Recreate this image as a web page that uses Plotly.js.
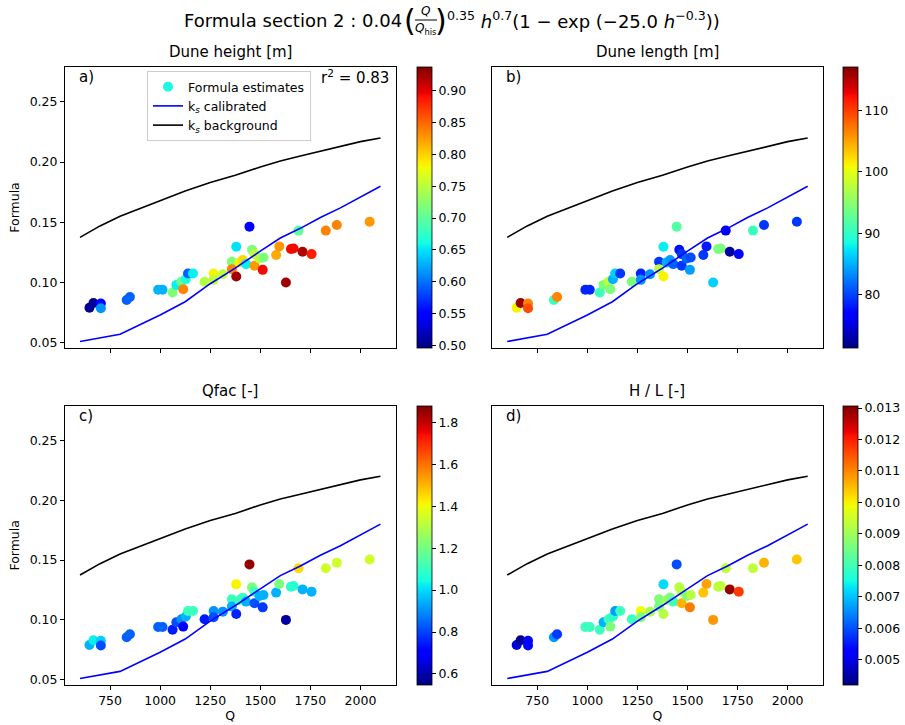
<!DOCTYPE html>
<html><head><meta charset="utf-8">
<script src="https://cdn.plot.ly/plotly-3.0.1.min.js"></script>
<style>body{margin:0;padding:0;background:#fff;} #chart{width:905px;height:725px;}</style>
</head><body><div id="chart"></div>
<script>
// ---------------- data ----------------
const Qpts = [647,667,704,704,833,849,990,1012,1062,1081,1106,1115,1128,1139,1164,1222,1267,1267,1313,1358,1358,1380,1380,1396,1413,1429,1446,1459,1471,1471,1496,1516,1512,1579,1595,1628,1653,1666,1691,1711,1756,1827,1882,2046];
const formulaEst = [0.079,0.083,0.0825,0.0786,0.0855,0.088,0.094,0.094,0.0917,0.098,0.1006,0.0944,0.1028,0.1075,0.1075,0.1006,0.1075,0.1022,0.1069,0.1172,0.1111,0.105,0.1297,0.1167,0.1186,0.1153,0.1464,0.1272,0.1236,0.1139,0.12,0.1208,0.1105,0.1228,0.13,0.1,0.1278,0.1283,0.1431,0.1255,0.1236,0.1431,0.1478,0.1505];
const duneHeight = [0.505,0.505,0.549,0.615,0.593,0.593,0.628,0.628,0.717,0.655,0.708,0.836,0.664,0.593,0.655,0.747,0.783,0.752,0.752,0.717,0.836,0.924,0.650,0.783,0.796,0.655,0.549,0.717,0.752,0.827,0.752,0.717,0.893,0.818,0.827,0.924,0.893,0.893,0.699,0.919,0.884,0.836,0.836,0.827];
const duneLength = [101.1,116.2,106.6,109.3,90.5,106.6,78.6,78.6,90.5,94.2,97.9,94.2,85.0,86.4,79.5,94.2,78.6,83.7,83.7,79.5,97.9,101.1,87.8,85.0,84.1,81.4,91.9,77.7,79.5,79.5,81.4,80.5,84.1,79.5,78.2,86.4,94.2,94.2,75.9,72.7,77.3,90.5,79.5,79.5];
const qfac = [0.947,1.027,0.987,0.814,0.841,0.841,0.841,0.841,0.748,0.814,0.907,0.708,0.947,1.107,1.107,0.748,0.907,0.814,0.907,1.107,0.947,0.761,1.413,1.107,1.107,0.947,1.852,1.214,1.107,0.814,0.947,0.947,0.788,0.947,1.214,0.588,1.080,1.080,1.453,0.947,0.947,1.347,1.347,1.347];
const heightLength = [0.00491,0.00438,0.00535,0.00535,0.00660,0.00580,0.00793,0.00793,0.00793,0.00686,0.00793,0.00864,0.00775,0.00668,0.00793,0.00793,0.00988,0.00864,0.00908,0.00864,0.00864,0.00926,0.00722,0.00908,0.00864,0.00793,0.00597,0.00926,0.00926,0.01059,0.00864,0.00926,0.01112,0.01041,0.01076,0.01085,0.00934,0.00934,0.00934,0.01289,0.01174,0.00934,0.01059,0.01041];

const Qline = [600,700,800,1000,1125,1250,1375,1500,1600,1700,1800,1900,2000,2100];
const ksCalibrated = [0.051,0.054,0.057,0.073,0.084,0.099,0.112,0.126,0.137,0.145,0.154,0.162,0.171,0.180];
const ksBackground = [0.1375,0.147,0.155,0.168,0.176,0.183,0.189,0.196,0.201,0.205,0.209,0.213,0.217,0.220];

const xTicks = [750,1000,1250,1500,1750,2000];
const yTicks = [0.05,0.10,0.15,0.20,0.25];
const cbTicksH = [0.50,0.55,0.60,0.65,0.70,0.75,0.80,0.85,0.90];
const cbTicksL = [80,90,100,110];
const cbTicksQ = [0.6,0.8,1.0,1.2,1.4,1.6,1.8];
const cbTicksHL = [0.005,0.006,0.007,0.008,0.009,0.010,0.011,0.012,0.013];
const panelTitles = ['Dune height [m]','Dune length [m]','Qfac [-]','H / L [-]'];
const panelLetters = ['a)','b)','c)','d)'];

// ---------------- style ----------------
const W = 905, H = 725;
const FONT = 'DejaVu Sans, Liberation Sans, sans-serif';
const px = x => x / W;
const py = y => 1 - y / H;
const jet = [
  [0,'rgb(0,0,127)'],[0.11,'rgb(0,0,255)'],[0.125,'rgb(0,0,255)'],
  [0.34,'rgb(0,219,255)'],[0.35,'rgb(0,229,247)'],[0.375,'rgb(21,255,226)'],
  [0.64,'rgb(239,255,8)'],[0.65,'rgb(247,246,0)'],[0.66,'rgb(255,236,0)'],
  [0.89,'rgb(255,19,0)'],[0.91,'rgb(232,0,0)'],[1,'rgb(127,0,0)']
];
const colX = [[65,395.5],[492.2,822.7]];
const rowY = [[67,348],[405.7,685]];
const cbX = [416.7, 842.7];
const panels = [
  {vals: duneHeight, cmin:0.496, cmax:0.937, ticks: cbTicksH, fmt:'.2f'},
  {vals: duneLength, cmin:71.3, cmax:117.1, ticks: cbTicksL, fmt:'d'},
  {vals: qfac, cmin:0.548, cmax:1.879, ticks: cbTicksQ, fmt:'.1f'},
  {vals: heightLength, cmin:0.0042, cmax:0.01307, ticks: cbTicksHL, fmt:'.3f'}
];

const traces = [];
const layout = {
  width: W, height: H,
  margin: {l:0, r:0, t:0, b:0},
  paper_bgcolor: '#fff', plot_bgcolor: '#fff',
  font: {family: FONT, size: 12.5, color: '#000'},
  showlegend: true,
  legend: {x: px(147), y: py(71), xanchor: 'left', yanchor: 'top',
           bgcolor: 'rgba(255,255,255,0.85)', bordercolor: '#cccccc', borderwidth: 1,
           font: {family: FONT, size: 12.5, color: '#000'}, tracegroupgap: 0},
  annotations: [], shapes: []
};

// legend entry for scatter
traces.push({x:[null], y:[null], type:'scatter', mode:'markers', name:'Formula estimates',
  marker:{size:10, color:'rgb(30,250,225)'}, xaxis:'x', yaxis:'y', hoverinfo:'skip'});

panels.forEach((p, i) => {
  const r = Math.floor(i / 2), c = i % 2;
  const k = i + 1;
  const xa = k === 1 ? 'x' : 'x' + k, ya = k === 1 ? 'y' : 'y' + k;
  const xKey = k === 1 ? 'xaxis' : 'xaxis' + k, yKey = k === 1 ? 'yaxis' : 'yaxis' + k;
  const yTop = rowY[r][0], yBot = rowY[r][1];
  traces.push({
    x: Qpts, y: formulaEst, type:'scatter', mode:'markers', xaxis: xa, yaxis: ya,
    showlegend: false,
    marker: {size: 10, color: p.vals, colorscale: jet, cmin: p.cmin, cmax: p.cmax,
      line: {width: 0},
      colorbar: {x: px(cbX[c]), xanchor:'left', xpad:0, ypad:0,
        y: 1 - (yTop + yBot) / 2 / H, yanchor:'middle', len: (yBot - yTop) / H, lenmode:'fraction',
        thickness: 15, outlinewidth: 0.8, outlinecolor:'#000',
        ticks:'outside', ticklen:4, tickwidth:1, tickcolor:'#000',
        tickvals: p.ticks, tickformat: p.fmt, tickfont:{family:FONT, size:12.5, color:'#000'}}
    }
  });
  traces.push({x: Qline, y: ksCalibrated, type:'scatter', mode:'lines', xaxis: xa, yaxis: ya,
    name:'k<sub><i>s</i></sub> calibrated', showlegend: k === 1, legendgroup:'cal',
    line:{color:'rgb(0,0,255)', width:1.6}});
  traces.push({x: Qline, y: ksBackground, type:'scatter', mode:'lines', xaxis: xa, yaxis: ya,
    name:'k<sub><i>s</i></sub> background', showlegend: k === 1, legendgroup:'bg',
    line:{color:'#000', width:1.6}});

  const xa_cfg = {
    domain: [px(colX[c][0]), px(colX[c][1])], range: [525, 2175], anchor: ya,
    tickvals: xTicks, showticklabels: r === 1, ticks:'outside', ticklen:4, tickwidth:1, tickcolor:'#000',
    showline:true, mirror:true, linecolor:'#000', linewidth:1, showgrid:false, zeroline:false,
    tickfont:{family:FONT, size:12.5, color:'#000'}
  };
  if (r === 1) xa_cfg.title = {text:'Q', font:{family:FONT, size:12.5, color:'#000'}, standoff: 2};
  layout[xKey] = xa_cfg;
  const ya_cfg = {
    domain: [py(yBot), py(yTop)], range: [0.0456, 0.279], anchor: xa,
    tickvals: yTicks, tickformat: '.2f', showticklabels: c === 0, ticks: c === 0 ? 'outside' : '',
    ticklen:4, tickwidth:1, tickcolor:'#000',
    showline:true, mirror:true, linecolor:'#000', linewidth:1, showgrid:false, zeroline:false,
    tickfont:{family:FONT, size:12.5, color:'#000'}
  };
  if (c === 0) ya_cfg.title = {text:'Formula', font:{family:FONT, size:12.5, color:'#000'}, standoff: 7};
  layout[yKey] = ya_cfg;
  // panel title
  layout.annotations.push({text: panelTitles[i], xref:'paper', yref:'paper',
    x: px((colX[c][0] + colX[c][1]) / 2), y: py(yTop - 15), xanchor:'center', yanchor:'middle',
    showarrow:false, font:{family:FONT, size:15, color:'#000'}});
  // panel letter
  layout.annotations.push({text: panelLetters[i], xref:'paper', yref:'paper',
    x: px(colX[c][0] + 12), y: py(yTop + 10), xanchor:'left', yanchor:'middle',
    showarrow:false, font:{family:FONT, size:15, color:'#000'}});
});

layout.annotations.push({text:'r<sup>2</sup> = 0.83', xref:'paper', yref:'paper',
  x: px(391), y: py(77), xanchor:'right', yanchor:'middle', showarrow:false,
  font:{family:FONT, size:15, color:'#000'}});

// main title (formula assembled from pieces)
const tFont = {family: FONT, size: 18, color:'#000'};
layout.annotations.push({text:'Formula section 2 : 0.04', xref:'paper', yref:'paper',
  x: px(182), y: py(20), xanchor:'left', yanchor:'middle', showarrow:false, font: tFont});
layout.annotations.push({text:'(', xref:'paper', yref:'paper', x: px(410), y: py(20),
  xanchor:'center', yanchor:'middle', showarrow:false, font:{family:FONT, size:30, color:'#000'}});
layout.annotations.push({text:')', xref:'paper', yref:'paper', x: px(441), y: py(20),
  xanchor:'center', yanchor:'middle', showarrow:false, font:{family:FONT, size:30, color:'#000'}});
layout.annotations.push({text:'<i>Q</i>', xref:'paper', yref:'paper', x: px(425.5), y: py(11),
  xanchor:'center', yanchor:'middle', showarrow:false, font:{family:FONT, size:12, color:'#000'}});
layout.annotations.push({text:'<i>Q</i><sub>his</sub>', xref:'paper', yref:'paper', x: px(425.5), y: py(29),
  xanchor:'center', yanchor:'middle', showarrow:false, font:{family:FONT, size:12, color:'#000'}});
layout.shapes.push({type:'line', xref:'paper', yref:'paper', x0: px(415), x1: px(437), y0: py(20), y1: py(20),
  line:{color:'#000', width:1}});
layout.annotations.push({text:'<sup>0.35</sup> <i>h</i><sup>0.7</sup>(1 − exp (−25.0 <i>h</i><sup>−0.3</sup>))',
  xref:'paper', yref:'paper', x: px(445), y: py(20), xanchor:'left', yanchor:'middle', showarrow:false, font: tFont});

Plotly.newPlot('chart', traces, layout, {displayModeBar:false, staticPlot:true});
</script>
</body></html>
